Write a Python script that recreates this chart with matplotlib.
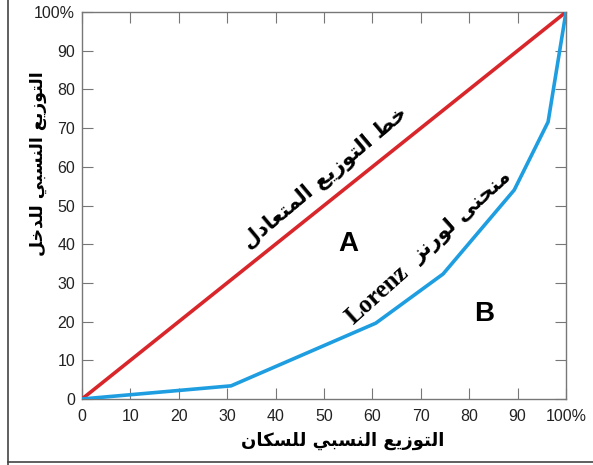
import matplotlib.pyplot as plt
from matplotlib.lines import Line2D

# Lorenz curve data
population = [0, 30.8, 60.7, 74.6, 89.3, 96.3, 100]
income = [0, 3.4, 19.6, 32.3, 54, 71.6, 100]
equal_line = [0, 100]
ticks = [0, 10, 20, 30, 40, 50, 60, 70, 80, 90, 100]
x_tick_labels = ['0', '10', '20', '30', '40', '50', '60', '70', '80', '90', '100%']
y_tick_labels = ['0', '10', '20', '30', '40', '50', '60', '70', '80', '90', '100%']

x_title = 'التوزيع النسبي للسكان'
y_title = 'التوزيع النسبي للدخل'
equal_title = 'خط التوزيع المتعادل'
curve_title = 'منحنى لورنز'

# Arabic presentation forms: isolated, final, initial, medial
FORMS = {
    'ا': (0xFE8D, 0xFE8E, None, None),
    'ب': (0xFE8F, 0xFE90, 0xFE91, 0xFE92),
    'ت': (0xFE95, 0xFE96, 0xFE97, 0xFE98),
    'ح': (0xFEA1, 0xFEA2, 0xFEA3, 0xFEA4),
    'خ': (0xFEA5, 0xFEA6, 0xFEA7, 0xFEA8),
    'د': (0xFEA9, 0xFEAA, None, None),
    'ر': (0xFEAD, 0xFEAE, None, None),
    'ز': (0xFEAF, 0xFEB0, None, None),
    'س': (0xFEB1, 0xFEB2, 0xFEB3, 0xFEB4),
    'ط': (0xFEC1, 0xFEC2, 0xFEC3, 0xFEC4),
    'ع': (0xFEC9, 0xFECA, 0xFECB, 0xFECC),
    'ك': (0xFED9, 0xFEDA, 0xFEDB, 0xFEDC),
    'ل': (0xFEDD, 0xFEDE, 0xFEDF, 0xFEE0),
    'م': (0xFEE1, 0xFEE2, 0xFEE3, 0xFEE4),
    'ن': (0xFEE5, 0xFEE6, 0xFEE7, 0xFEE8),
    'و': (0xFEED, 0xFEEE, None, None),
    'ى': (0xFEEF, 0xFEF0, None, None),
    'ي': (0xFEF1, 0xFEF2, 0xFEF3, 0xFEF4),
}


def shape(text):
    # join letters and reverse into visual order
    out = []
    n = len(text)
    for i, ch in enumerate(text):
        if ch not in FORMS:
            out.append(ch)
            continue
        f = FORMS[ch]
        prev = text[i - 1] if i > 0 else ''
        nxt = text[i + 1] if i < n - 1 else ''
        join_prev = prev in FORMS and FORMS[prev][2] is not None
        join_next = nxt in FORMS and f[2] is not None
        if join_prev and join_next:
            code = f[3]
        elif join_prev:
            code = f[1]
        elif join_next:
            code = f[2]
        else:
            code = f[0]
        out.append(chr(code))
    return ''.join(out)[::-1]


fig = plt.figure(figsize=(5.93, 4.65), dpi=100)
ax = fig.add_axes([82 / 593, 1 - 399 / 465, 484 / 593, 387 / 465])

ax.plot(equal_line, equal_line, color='#d9262b', lw=2.6, zorder=3)
ax.plot(population, income, color='#1e9ee0', lw=2.6, zorder=3)

ax.set_xlim(0, 100)
ax.set_ylim(0, 100)
ax.set_xticks(ticks)
ax.set_yticks(ticks)
ax.set_xticklabels(x_tick_labels, family='Liberation Sans', fontsize=11.5, color='#222222')
ax.set_yticklabels(y_tick_labels, family='Liberation Sans', fontsize=11.5, color='#222222')
ax.tick_params(direction='in', length=8, color='#777777', top=True, right=True)
ax.tick_params(axis='x', pad=7)
ax.tick_params(axis='y', pad=5)
for s in ax.spines.values():
    s.set_color('#777777')
    s.set_linewidth(1)

ax.set_xlabel(shape(x_title), family='DejaVu Sans', fontweight='bold', fontsize=13)
ax.set_ylabel(shape(y_title), family='DejaVu Sans', fontweight='bold', fontsize=12.5)
ax.xaxis.set_label_coords(0.538, -0.085)
ax.yaxis.set_label_coords(-0.072, 0.607)

ax.text(50.2, 57.1, shape(equal_title), family='DejaVu Sans', fontweight='bold', fontsize=15,
        rotation=40, ha='center', va='center', rotation_mode='anchor')
ax.text(61.0, 27.0, 'Lorenz', family='Liberation Serif', fontweight='bold', fontsize=18,
        rotation=42, ha='center', va='center', rotation_mode='anchor')
ax.text(78.6, 47.2, shape(curve_title), family='DejaVu Sans', fontweight='bold', fontsize=15,
        rotation=42, ha='center', va='center', rotation_mode='anchor')
ax.text(55, 40, 'A', family='Liberation Sans', fontweight='bold', fontsize=20, ha='center', va='center')
ax.text(83, 22, 'B', family='Liberation Sans', fontweight='bold', fontsize=20, ha='center', va='center')

# frame around the picture
fig.add_artist(Line2D([8 / 593, 8 / 593], [0, 1], transform=fig.transFigure, color='#444444', lw=1.2))
fig.add_artist(Line2D([8 / 593, 1], [3 / 465, 3 / 465], transform=fig.transFigure, color='#444444', lw=1.2))

fig.savefig('out.png', dpi=100)
